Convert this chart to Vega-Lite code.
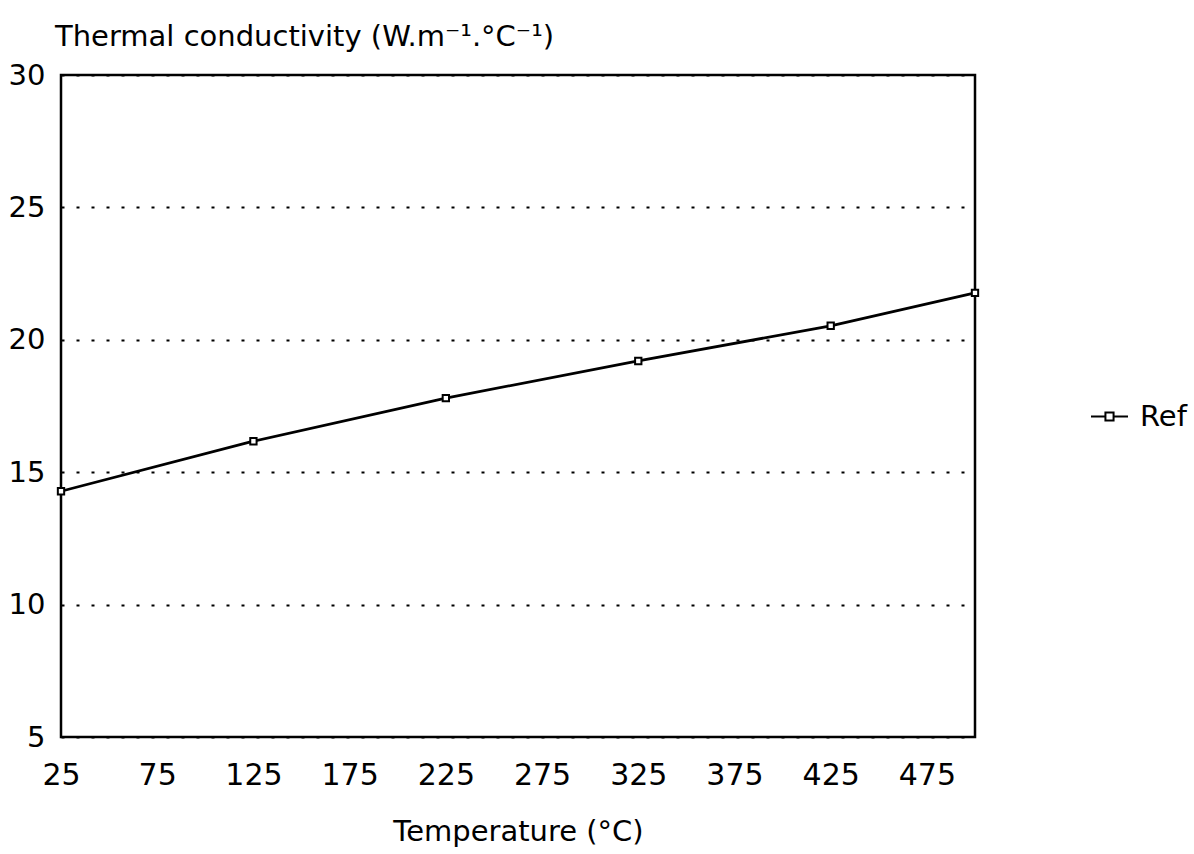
{
  "$schema": "https://vega.github.io/schema/vega-lite/v6.json",
  "width": 914,
  "height": 662,
  "autosize": {"type": "none"},
  "padding": {"left": 61, "top": 75, "right": 219, "bottom": 117},
  "background": "white",
  "title": {
    "text": "Thermal conductivity (W.m⁻¹.°C⁻¹)",
    "anchor": "start",
    "frame": "group",
    "font": "DejaVu Sans",
    "fontSize": 29,
    "fontWeight": "normal",
    "color": "black",
    "baseline": "alphabetic",
    "offset": -14,
    "dx": -6
  },
  "data": {
    "values": [
      {"temp": 25, "k": 14.28, "series": "Ref"},
      {"temp": 125, "k": 16.17, "series": "Ref"},
      {"temp": 225, "k": 17.8, "series": "Ref"},
      {"temp": 325, "k": 19.2, "series": "Ref"},
      {"temp": 425, "k": 20.53, "series": "Ref"},
      {"temp": 500, "k": 21.77, "series": "Ref"}
    ]
  },
  "encoding": {
    "x": {
      "field": "temp",
      "type": "quantitative",
      "scale": {"domain": [25, 500], "nice": false, "zero": false},
      "axis": {
        "title": "Temperature (°C)",
        "values": [25, 75, 125, 175, 225, 275, 325, 375, 425, 475],
        "grid": false,
        "domain": false,
        "ticks": false,
        "labelFlush": false,
        "labelBound": false,
        "labelOverlap": false,
        "labelPadding": 23,
        "labelFont": "DejaVu Sans",
        "labelFontSize": 30,
        "labelColor": "black",
        "titleFont": "DejaVu Sans",
        "titleFontSize": 29,
        "titleFontWeight": "normal",
        "titleColor": "black",
        "titlePadding": 27
      }
    },
    "y": {
      "field": "k",
      "type": "quantitative",
      "scale": {"domain": [5, 30], "nice": false, "zero": false},
      "axis": {
        "title": null,
        "values": [5, 10, 15, 20, 25, 30],
        "grid": true,
        "gridColor": "black",
        "gridDash": [3, 12],
        "gridWidth": 2,
        "gridOpacity": 1,
        "domain": false,
        "ticks": false,
        "labelFlush": false,
        "labelBound": false,
        "labelOverlap": false,
        "labelPadding": 16,
        "labelFont": "DejaVu Sans",
        "labelFontSize": 29,
        "labelColor": "black"
      }
    }
  },
  "layer": [
    {
      "mark": {"type": "line", "color": "black", "strokeWidth": 2.8},
      "encoding": {
        "stroke": {
          "field": "series",
          "type": "nominal",
          "scale": {"range": ["black"]},
          "legend": {
            "title": null,
            "orient": "none",
            "legendX": 1029,
            "legendY": 322,
            "padding": 0,
            "symbolType": "M-1,0L-0.25,0M0.25,0L1,0M-0.22,-0.22H0.22V0.22H-0.22Z",
            "symbolSize": 1369,
            "symbolStrokeWidth": 2,
            "symbolStrokeColor": "black",
            "symbolFillColor": "white",
            "labelOffset": 11,
            "labelFont": "DejaVu Sans",
            "labelFontSize": 29,
            "labelColor": "black"
          }
        }
      }
    },
    {
      "mark": {"type": "point", "shape": "square", "filled": false, "fill": "white", "fillOpacity": 1, "stroke": "black", "strokeWidth": 2, "size": 40, "opacity": 1}
    }
  ],
  "config": {
    "view": {"stroke": "black", "strokeWidth": 2.5}
  }
}
